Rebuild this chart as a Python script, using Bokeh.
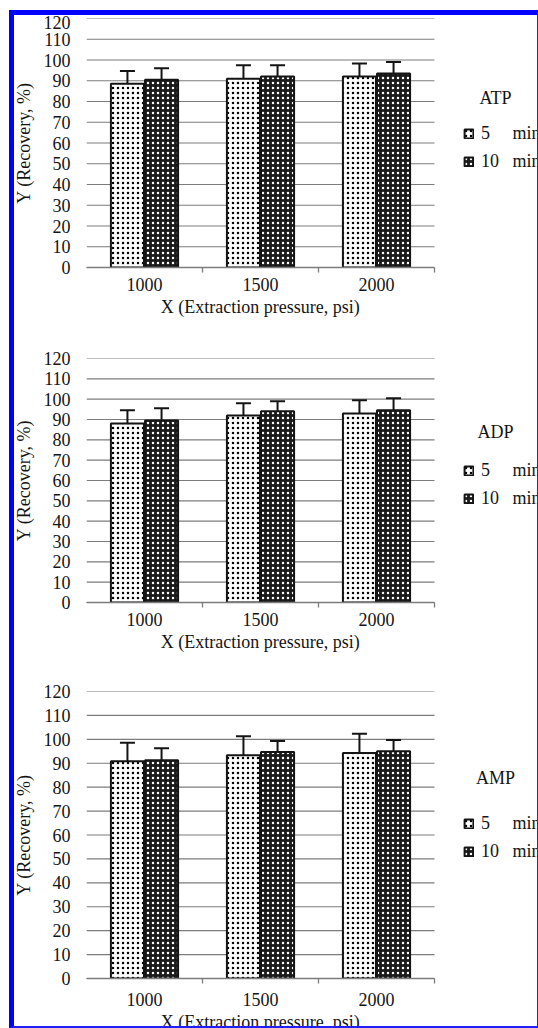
import numpy as np
from bokeh.plotting import figure
from bokeh.models import (ColumnDataSource, Whisker, TeeHead, FixedTicker, Legend, LegendItem,
                          Label, Range1d, GlobalInlineStyleSheet)
from bokeh.layouts import column
from bokeh.embed import file_html
from bokeh.resources import INLINE

# ---------------- data ----------------
pressures = ["1000", "1500", "2000"]
series_labels = ["5\u00a0\u00a0\u00a0\u00a0\u00a0min", "10\u00a0\u00a0\u00a0min"]
y_ticks = [0, 10, 20, 30, 40, 50, 60, 70, 80, 90, 100, 110, 120]
x_title = "X (Extraction pressure, psi)"
y_title = "Y (Recovery, %)"

atp_5 = [88.5, 91.0, 92.0]
atp_5_err = [6.2, 6.5, 6.3]
atp_10 = [90.5, 92.0, 93.5]
atp_10_err = [5.5, 5.5, 5.5]

adp_5 = [88.0, 92.0, 93.0]
adp_5_err = [6.5, 6.0, 6.5]
adp_10 = [89.5, 94.0, 94.5]
adp_10_err = [6.0, 5.0, 6.0]

amp_5 = [90.8, 93.3, 94.3]
amp_5_err = [7.8, 8.0, 8.0]
amp_10 = [91.3, 94.7, 95.0]
amp_10_err = [5.0, 4.6, 4.7]

# ---------------- style ----------------
FONT = "Liberation Serif"
INK = "#141414"
GRID = "#7c7c7c"
FIG_W = 527
LEFT = 76
PLOT_W = 348   # pixel width of the three categories
# trailing no-break spaces shift the centred axis title over the category area
TITLE_PAD = "\u00a0" * 23


def make_panel(name, v5, e5, v10, e10, height, top_b, bottom_b, tick_standoff,
               legend_y, name_y):
    n = len(pressures)
    xc = np.arange(n) + 0.5
    x_end = n * (FIG_W - LEFT) / PLOT_W
    p = figure(width=FIG_W, height=height, x_range=Range1d(0, x_end), y_range=Range1d(0, 120),
               output_backend="svg", toolbar_location=None,
               min_border_left=LEFT, min_border_right=0,
               min_border_top=top_b, min_border_bottom=bottom_b)
    p.outline_line_color = None
    p.background_fill_color = "white"
    p.border_fill_color = "white"

    # horizontal grid lines at the y ticks, spanning the category area only
    p.segment(x0=0, x1=n, y0=y_ticks, y1=y_ticks, line_color=GRID, line_width=1.2,
              level="underlay")

    s5 = ColumnDataSource(dict(x=xc - 0.147, top=v5,
                               upper=np.array(v5) + np.array(e5),
                               lower=np.array(v5) - np.array(e5)))
    s10 = ColumnDataSource(dict(x=xc + 0.147, top=v10,
                                upper=np.array(v10) + np.array(e10),
                                lower=np.array(v10) - np.array(e10)))

    r5 = p.vbar(x="x", top="top", width=0.285, source=s5, fill_color="white",
                line_color=INK, line_width=2, hatch_pattern="dot", hatch_color="black",
                hatch_scale=5, hatch_weight=1.2)
    r10 = p.vbar(x="x", top="top", width=0.285, source=s10, fill_color="#1a1a1a",
                 line_color=INK, line_width=2, hatch_pattern="dot", hatch_color="white",
                 hatch_scale=5, hatch_weight=1.2)

    for s in (s5, s10):
        w = Whisker(base="x", upper="upper", lower="lower", source=s,
                    line_color=INK, line_width=2,
                    upper_head=TeeHead(size=15, line_color=INK, line_width=2),
                    lower_head=TeeHead(size=15, line_color=INK, line_width=2))
        p.add_layout(w)

    # y axis
    p.yaxis.ticker = FixedTicker(ticks=y_ticks)
    p.yaxis.axis_line_color = None
    p.yaxis.major_tick_line_color = None
    p.yaxis.minor_tick_line_color = None
    p.yaxis.major_tick_out = 0
    p.yaxis.major_tick_in = 0
    p.yaxis.major_label_standoff = 16
    p.yaxis.axis_label = y_title
    p.yaxis.axis_label_standoff = 7
    p.yaxis.axis_label_text_font_style = "normal"

    # x axis
    p.xaxis.ticker = FixedTicker(ticks=list(xc), minor_ticks=list(range(1, n + 1)))
    p.xaxis.major_label_overrides = {float(x): lab for x, lab in zip(xc, pressures)}
    p.xaxis.bounds = (0, n)
    p.xaxis.axis_line_color = GRID
    p.xaxis.axis_line_width = 1.3
    p.xaxis.major_tick_line_color = None
    p.xaxis.major_tick_out = 0
    p.xaxis.major_tick_in = 0
    p.xaxis.minor_tick_line_color = GRID
    p.xaxis.minor_tick_line_width = 1.3
    p.xaxis.minor_tick_out = 5
    p.xaxis.minor_tick_in = 0
    p.xaxis.major_label_standoff = tick_standoff
    p.xaxis.axis_label = x_title + TITLE_PAD
    p.xaxis.axis_label_standoff = 3
    p.xaxis.axis_label_text_font_style = "normal"

    for ax in (p.xaxis, p.yaxis):
        ax.major_label_text_font = FONT
        ax.major_label_text_font_size = "18px"
        ax.major_label_text_color = INK
        ax.axis_label_text_font = FONT
        ax.axis_label_text_font_size = "18px"
        ax.axis_label_text_color = INK

    p.xgrid.grid_line_color = None
    p.ygrid.grid_line_color = None

    legend = Legend(items=[LegendItem(label=series_labels[0], renderers=[r5]),
                           LegendItem(label=series_labels[1], renderers=[r10])],
                    location=(377, legend_y), orientation="vertical",
                    glyph_width=11, glyph_height=11, label_standoff=7,
                    label_height=20, spacing=7, padding=0, margin=0,
                    border_line_color=None, background_fill_alpha=0,
                    label_text_font=FONT, label_text_font_size="18px",
                    label_text_color=INK)
    p.add_layout(legend)

    p.add_layout(Label(x=n + 0.526, y=name_y, text=name, text_align="center",
                       text_baseline="middle", text_font=FONT, text_font_size="18px",
                       text_color=INK))
    return p


p1 = make_panel("ATP", atp_5, atp_5_err, atp_10, atp_10_err,
                height=320, top_b=3, bottom_b=68, tick_standoff=5, legend_y=95, name_y=81.5)
p2 = make_panel("ADP", adp_5, adp_5_err, adp_10, adp_10_err,
                height=325, top_b=23, bottom_b=58, tick_standoff=5, legend_y=93, name_y=84)
p3 = make_panel("AMP", amp_5, amp_5_err, amp_10, amp_10_err,
                height=378, top_b=31, bottom_b=60, tick_standoff=9, legend_y=116, name_y=84)

css = """
html, body { margin: 0; padding: 0; overflow: hidden; background: #ffffff; }
body { padding: 15px 0 0 10px; }
body::after { content: ""; position: fixed; left: 9px; top: 10px; width: 529px; height: 1018px;
  box-sizing: border-box; border-left: 5px solid #0000ff; border-top: 5px solid #0000ff;
  border-right: 1px solid #2020ff; border-bottom: 2px solid #2020ff;
  pointer-events: none; z-index: 9999; }
"""

layout = column(p1, p2, p3, spacing=0, stylesheets=[GlobalInlineStyleSheet(css=css)])

open("out.html", "w").write(file_html(layout, INLINE))
